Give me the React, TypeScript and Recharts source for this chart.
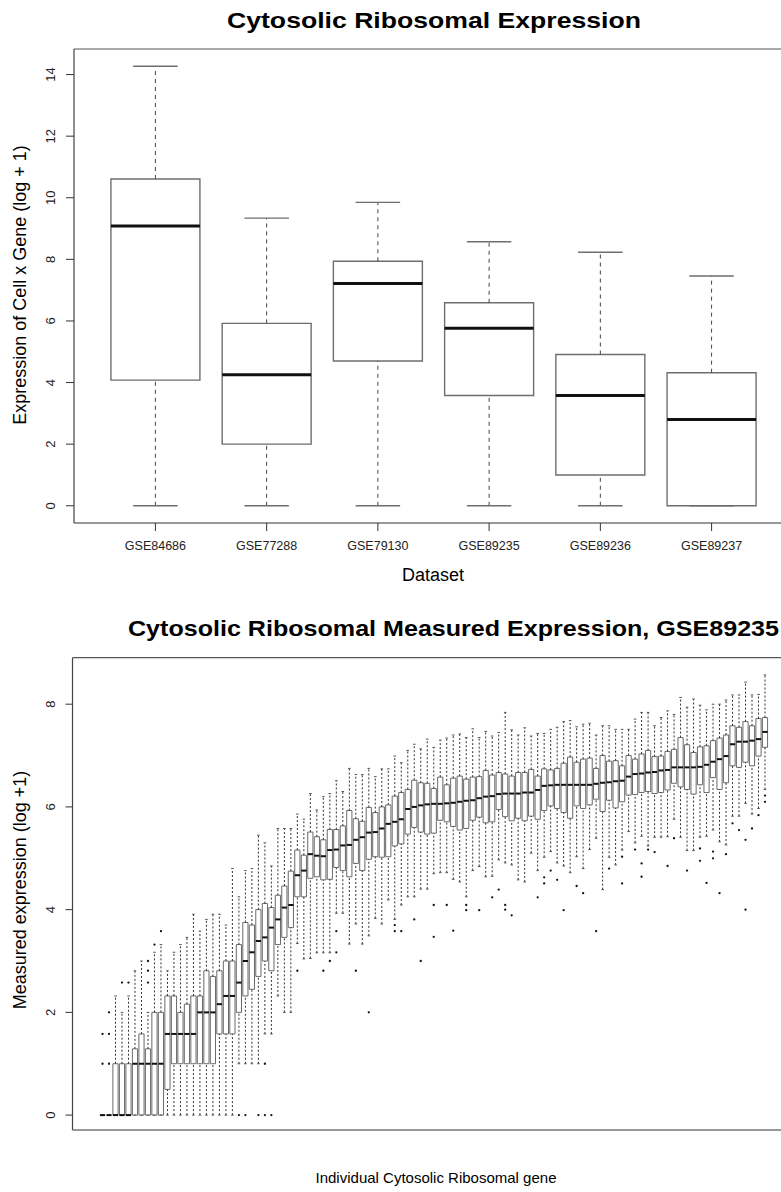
import React from "react";
import { ComposedChart, XAxis, YAxis, ReferenceArea, ReferenceLine, Scatter } from "recharts";

const FONT = "'Liberation Sans', Arial, Helvetica, sans-serif";

// ---------- Top panel: expression per dataset ----------
const datasetNames = ["GSE84686", "GSE77288", "GSE79130", "GSE89235", "GSE89236", "GSE89237"];
const datasetLow = [0, 0, 0, 0, 0, 0];
const datasetQ1 = [4.08, 2.0, 4.7, 3.58, 1.0, 0];
const datasetMedian = [9.08, 4.25, 7.22, 5.76, 3.58, 2.8];
const datasetQ3 = [10.61, 5.92, 7.94, 6.59, 4.91, 4.32];
const datasetHigh = [14.27, 9.34, 9.85, 8.57, 8.23, 7.46];
const datasetYTicks = [0, 2, 4, 6, 8, 10, 12, 14];

// ---------- Bottom panel: GSE89235 per gene ----------
const geneLow = [0,0,0,0,0,0,0,0,0,0, 0,0,0,0,0,0,0,0,0,0, 0,1,1,1,1,1.58,1.58,2.32,2,2, 3.34,3.04,3.05,3.16,3.16,3.16,3.93,3.93,3.33,3.72, 3.33,3.49,3.83,3.72,4.19,3.81,4.09,4.25,4.25,4.4, 4.4,4.7,4.72,4.72,4.59,4.54,4.25,4.76,4.84,4.64, 4.65,4.97,4.91,4.87,4.58,4.54,5.1,4.76,5.02,5.13, 4.91,4.85,4.72,5.03,4.8,5.17,5.39,4.39,5.02,4.87, 5.16,5.52,5.3,5.43,5.24,5.41,5.41,5.42,5.76,5.41, 5.15,5.15,5.41,5.43,5.55,5.32,5.26,5.82,5.82,6.07, 5.86,5.97,6.34];
const geneQ1 = [0,0,0,0,0,0,0,0,0,0, 0.5,1,1,1,1,1,1,1,1.58,1.58, 1.58,2,2.32,2.45,2.7,3,2.81,3.32,3.46,3.65, 4.25,4.25,4.61,4.64,4.58,4.59,4.82,4.76,4.64,4.9, 4.76,4.98,5.03,5.02,5.03,5.24,5.28,5.47,5.6,5.51, 5.47,5.49,5.74,5.71,5.62,5.55,5.58,5.74,5.8,5.69, 5.71,5.95,5.81,5.73,5.78,5.73,5.82,5.76,5.93,6.02, 5.97,5.89,5.78,6.02,5.97,6.04,6.15,5.91,6.13,5.98, 6.1,6.23,6.24,6.28,6.3,6.26,6.28,6.33,6.46,6.39, 6.34,6.25,6.43,6.28,6.57,6.34,6.47,6.8,6.77,6.87, 6.8,6.99,7.16];
const geneMedian = [0,0,0,0,0,1,1,1,1,1, 1.58,1.58,1.58,1.58,1.58,2,2,2,2.16,2.32, 2.32,2.58,3,3.17,3.39,3.46,3.65,3.81,4.04,4.09, 4.67,4.76,5.08,5.05,5.04,5.16,5.17,5.25,5.26,5.36, 5.41,5.5,5.51,5.58,5.67,5.71,5.76,5.96,6,6.03, 6.05,6.06,6.06,6.07,6.08,6.1,6.12,6.13,6.17,6.2, 6.21,6.25,6.26,6.26,6.26,6.28,6.28,6.33,6.41,6.42, 6.43,6.43,6.43,6.43,6.43,6.43,6.45,6.47,6.48,6.5, 6.51,6.59,6.64,6.65,6.67,6.68,6.71,6.72,6.77,6.77, 6.77,6.77,6.78,6.82,6.88,6.93,6.99,7.22,7.27,7.27, 7.29,7.32,7.46];
const geneQ3 = [0,0,1,1,1,1.29,1.58,1.29,2,2, 2.32,2.32,2,2.16,2.32,2.32,2.81,2.7,2.81,3, 3,3.32,3.75,3.7,4,4.12,4.04,4.28,4.46,4.75, 5.16,5.06,5.51,5.42,5.36,5.56,5.56,5.63,5.93,5.77, 5.72,5.99,5.89,6,6.04,6.21,6.28,6.34,6.52,6.47, 6.46,6.36,6.58,6.43,6.56,6.6,6.54,6.58,6.59,6.71, 6.62,6.67,6.64,6.6,6.67,6.67,6.73,6.6,6.74,6.72, 6.75,6.85,6.97,6.87,6.93,6.95,6.75,7,6.89,6.9, 6.8,7,6.93,7.03,7.1,6.98,6.99,7.08,7.12,7.35, 7.21,7.06,7.17,7.19,7.29,7.34,7.4,7.58,7.55,7.66, 7.58,7.72,7.74];
const geneHigh = [0,0,2.32,2,2.32,2.81,3,2,3.17,3.32, 2.81,3.17,3.32,3.46,3.91,3.58,3.81,3.91,3.91,3.7, 4.8,4.25,4.76,4.8,5.45,5.3,4.85,5.58,5.58,5.58, 5.86,5.76,6.26,5.94,6.2,6.26,6.51,6.3,6.75,6.63, 6.63,6.75,6.59,6.74,6.74,6.99,6.86,7.1,7.22,7.13, 7.32,7.16,7.3,7.34,7.4,7.42,7.35,7.52,7.35,7.47, 7.38,7.45,7.84,7.5,7.4,7.54,7.38,7.43,7.43,7.51, 7.55,7.66,7.68,7.56,7.61,7.63,7.4,7.58,7.58,7.51, 7.51,7.51,7.71,7.84,7.84,7.58,7.74,7.87,7.8,8.13, 7.94,8.1,7.98,7.89,8,8,8.08,8.18,8.18,8.43, 8.18,8.19,8.57];
const outlierGene = [1,1,2,2,2,4,5,8,8,8,9,10,22,23,25,26,26,27,31,35,36,37,37,40,42,46,46,47,49,50,52,52,54,55,57,57,59,61,62,63,63,64,68,69,69,70,71,72,74,75,77,79,81,81,83,84,84,85,86,88,89,91,93,93,94,95,95,96,97,98,99,100,100,101,102,103,103];
const outlierValue = [1,1.58,1,1.58,2,2.58,2.58,2.58,2.81,3,3.32,3.58,0,0,0,0,1,0,2.81,2.81,3,3.58,3.17,2.81,2,3.7,3.58,3.58,3.81,3,4.09,3.47,4.09,3.59,4.09,3.99,3.99,4.24,4.39,4.09,4,3.89,4.24,4.63,4.51,4.76,4.58,3.99,4.46,4.32,3.58,4.8,5.03,4.51,5.17,4.9,4.64,5.17,5.12,4.85,5.39,4.76,5.19,4.95,4.52,5.13,5,4.32,5.08,5.68,5.55,5.36,4,5.58,5.84,6.22,6.1];
const geneYTicks = [0, 2, 4, 6, 8];

// axis domains (R's 4% padding around data)
const TOP_X: [number, number] = [0.268, 6.732];
const TOP_Y: [number, number] = [-0.56, 14.83];
const BOT_X: [number, number] = [-3.62, 107.62];
const BOT_Y: [number, number] = [-0.29, 8.905];

type BoxStyle = {
  half: number; cap: number;
  boxStroke: string; boxWidth: number;
  medStroke: string; medWidth: number;
  whiskStroke: string; whiskWidth: number; dash: string;
  capStroke: string; capWidth: number;
};

function boxMarks(prefix: string, lo: number[], q1: number[], med: number[], q3: number[], hi: number[], s: BoxStyle) {
  const els: React.ReactElement[] = [];
  med.forEach((m, i) => {
    const x = i + 1;
    els.push(<ReferenceLine key={`${prefix}wu${i}`} segment={[{ x, y: q3[i] }, { x, y: hi[i] }]} stroke={s.whiskStroke} strokeWidth={s.whiskWidth} strokeDasharray={s.dash} ifOverflow="visible" />);
    els.push(<ReferenceLine key={`${prefix}wl${i}`} segment={[{ x, y: lo[i] }, { x, y: q1[i] }]} stroke={s.whiskStroke} strokeWidth={s.whiskWidth} strokeDasharray={s.dash} ifOverflow="visible" />);
    els.push(<ReferenceLine key={`${prefix}ch${i}`} segment={[{ x: x - s.cap, y: hi[i] }, { x: x + s.cap, y: hi[i] }]} stroke={s.capStroke} strokeWidth={s.capWidth} ifOverflow="visible" />);
    els.push(<ReferenceLine key={`${prefix}cl${i}`} segment={[{ x: x - s.cap, y: lo[i] }, { x: x + s.cap, y: lo[i] }]} stroke={s.capStroke} strokeWidth={s.capWidth} ifOverflow="visible" />);
    els.push(<ReferenceArea key={`${prefix}bx${i}`} x1={x - s.half} x2={x + s.half} y1={q1[i]} y2={q3[i]} fill="#ffffff" fillOpacity={1} stroke={s.boxStroke} strokeWidth={s.boxWidth} ifOverflow="visible" />);
    els.push(<ReferenceLine key={`${prefix}md${i}`} segment={[{ x: x - s.half, y: m }, { x: x + s.half, y: m }]} stroke={s.medStroke} strokeWidth={s.medWidth} ifOverflow="visible" />);
  });
  return els;
}

function frame(prefix: string, xd: [number, number], yd: [number, number]) {
  return [
    <ReferenceLine key={`${prefix}ft`} y={yd[1]} stroke="#555" strokeWidth={1.2} ifOverflow="visible" />,
    <ReferenceLine key={`${prefix}fb`} y={yd[0]} stroke="#333" strokeWidth={1.2} ifOverflow="visible" />,
    <ReferenceLine key={`${prefix}fl`} x={xd[0]} stroke="#444" strokeWidth={1.2} ifOverflow="visible" />,
  ];
}

const RotTick = (p: any) => (
  <text x={p.x} y={p.y} transform={`rotate(-90 ${p.x} ${p.y})`} textAnchor="middle" fontSize={13} fill="#222" fontFamily={FONT}>
    {p.payload.value}
  </text>
);

const DatasetTick = (p: any) => (
  <text x={p.x} y={p.y} dy={9} textAnchor="middle" fontSize={12.5} fill="#222" fontFamily={FONT}>
    {datasetNames[Math.round(p.payload.value) - 1]}
  </text>
);

const EmptyShape = () => <g />;
const OutlierDot = (p: any) => <circle cx={p.cx} cy={p.cy} r={1.15} fill="#111" />;

const topPoints = datasetMedian.map((v, i) => ({ x: i + 1, y: v }));
const outlierPoints = outlierGene.map((g, i) => ({ x: g, y: outlierValue[i] }));

const topStyle: BoxStyle = {
  half: 0.4, cap: 0.2,
  boxStroke: "#6e6e6e", boxWidth: 1.4,
  medStroke: "#111", medWidth: 3,
  whiskStroke: "#444", whiskWidth: 1, dash: "4 4",
  capStroke: "#6e6e6e", capWidth: 1.4,
};
const botStyle: BoxStyle = {
  half: 0.4, cap: 0.2,
  boxStroke: "#6a6a6a", boxWidth: 1,
  medStroke: "#111", medWidth: 2,
  whiskStroke: "#333", whiskWidth: 1, dash: "2 2",
  capStroke: "#555", capWidth: 1,
};

export default function App() {
  return (
    <div style={{ position: "absolute", left: 0, top: 0, width: 781, height: 1192, overflow: "hidden", background: "#fff" }}>
      <div style={{ position: "absolute", left: 0, top: 0 }}>
        <ComposedChart width={820} height={600} margin={{ top: 49, right: 27, left: 14, bottom: 47 }}>
          <XAxis
            type="number" dataKey="x" domain={TOP_X} allowDataOverflow ticks={[1, 2, 3, 4, 5, 6]} interval={0}
            axisLine={false} tickLine={{ stroke: "#333" }} tickSize={8} tickMargin={10} height={30} tick={<DatasetTick />}
          />
          <YAxis
            type="number" dataKey="y" domain={TOP_Y} allowDataOverflow ticks={datasetYTicks} interval={0}
            axisLine={false} tickLine={{ stroke: "#333" }} tickSize={8} tickMargin={11} width={60} tick={<RotTick />}
          />
          {frame("t", TOP_X, TOP_Y)}
          {boxMarks("t", datasetLow, datasetQ1, datasetMedian, datasetQ3, datasetHigh, topStyle)}
          <Scatter data={topPoints} dataKey="y" shape={<EmptyShape />} isAnimationActive={false} />
        </ComposedChart>
      </div>
      <div style={{ position: "absolute", left: 0, top: 600 }}>
        <ComposedChart width={820} height={592} margin={{ top: 57.7, right: 25, left: 12.5, bottom: 62 }}>
          <XAxis type="number" dataKey="x" domain={BOT_X} allowDataOverflow hide />
          <YAxis
            type="number" dataKey="y" domain={BOT_Y} allowDataOverflow ticks={geneYTicks} interval={0}
            axisLine={false} tickLine={{ stroke: "#333" }} tickSize={7} tickMargin={10} width={60} tick={<RotTick />}
          />
          {frame("b", BOT_X, BOT_Y)}
          {boxMarks("b", geneLow, geneQ1, geneMedian, geneQ3, geneHigh, botStyle)}
          <Scatter data={outlierPoints} dataKey="y" shape={<OutlierDot />} isAnimationActive={false} />
        </ComposedChart>
      </div>
      <svg width={781} height={1192} style={{ position: "absolute", left: 0, top: 0, pointerEvents: "none" }}>
        <g fontFamily={FONT} fill="#000">
          <text x={434} y={28} textAnchor="middle" fontSize={22} fontWeight="bold" textLength={414} lengthAdjust="spacingAndGlyphs">
            Cytosolic Ribosomal Expression
          </text>
          <text x={433} y={581} textAnchor="middle" fontSize={18}>Dataset</text>
          <text x={26} y={285} textAnchor="middle" fontSize={18} transform="rotate(-90 26 285)">
            Expression of Cell x Gene (log + 1)
          </text>
          <text x={453.5} y={636} textAnchor="middle" fontSize={22} fontWeight="bold" textLength={651} lengthAdjust="spacingAndGlyphs">
            Cytosolic Ribosomal Measured Expression, GSE89235
          </text>
          <text x={26} y={890} textAnchor="middle" fontSize={18} transform="rotate(-90 26 890)">
            Measured expression (log +1)
          </text>
          <text x={436} y={1183} textAnchor="middle" fontSize={15}>Individual Cytosolic Ribosomal gene</text>
        </g>
      </svg>
    </div>
  );
}
